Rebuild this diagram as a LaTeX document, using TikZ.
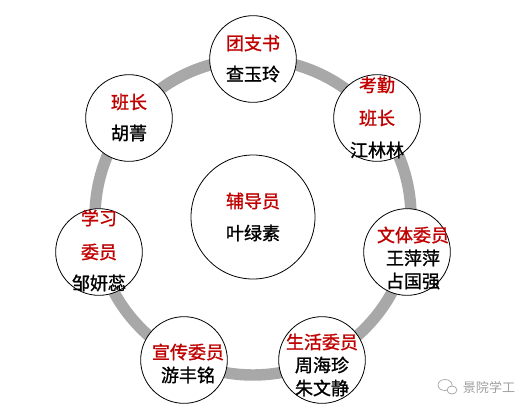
\documentclass[tikz,border=0pt]{standalone}
\usepackage{fontspec}
\setmainfont{Noto Sans CJK SC}[FakeBold=1.2]
\newfontfamily\markfont{Noto Sans CJK SC}
\definecolor{postred}{HTML}{C00000}
\definecolor{ringgray}{HTML}{A8A8A8}
\definecolor{markgray}{HTML}{A0A0A0}
\tikzset{
  post/.style={circle, draw=black, line width=0.6pt, fill=white, minimum size=65pt, inner sep=0pt},
  hub/.style={post, minimum size=93pt},
  title/.style={text=postred, inner sep=0pt, font=\fontsize{13.5}{16}\selectfont},
  who/.style={text=black, inner sep=0pt, font=\fontsize{13.5}{16}\selectfont},
  wmark/.style={text=markgray, inner sep=0pt, font=\markfont\fontsize{9.8}{12}\selectfont}
}
\begin{document}
\begin{tikzpicture}[x=0.75pt, y=-0.75pt]
\useasboundingbox (0,0) rectangle (520,419);
% ring
\draw[ringgray, line width=8.6pt] (253,217) circle (158);
% circles
\node[hub] (fdy) at (253,217) {};
\node[post] (tzs) at (253,59) {};
\node[post] (kqbz) at (377,118) {};
\node[post] (wtwy) at (407,252) {};
\node[post] (shwy) at (322,360) {};
\node[post] (xcwy) at (184,360) {};
\node[post] (xxwy) at (99,252) {};
\node[post] (bz) at (129,118) {};
% texts
\node[title] (fdy-t) at (253,201) {辅导员};
\node[who] (fdy-n) at (253,233) {叶绿素};
\node[title] (tzs-t) at (253,43) {团支书};
\node[who] (tzs-n) at (253,74) {查玉玲};
\node[title] (kqbz-t1) at (377,85) {考勤};
\node[title] (kqbz-t2) at (377,118) {班长};
\node[who] (kqbz-n) at (377,150) {江林林};
\node[title] (wtwy-t) at (413,235) {文体委员};
\node[who] (wtwy-n1) at (413,258) {王萍萍};
\node[who] (wtwy-n2) at (413,281) {占国强};
\node[title] (shwy-t) at (322,342) {生活委员};
\node[who] (shwy-n1) at (322,365) {周海珍};
\node[who] (shwy-n2) at (322,388) {朱文静};
\node[title] (xcwy-t) at (188,352) {宣传委员};
\node[who] (xcwy-n) at (188,375) {游丰铭};
\node[title] (xxwy-t1) at (99,218) {学习};
\node[title] (xxwy-t2) at (99,252) {委员};
\node[who] (xxwy-n) at (99,283) {邹妍蕊};
\node[title] (bz-t) at (129,102) {班长};
\node[who] (bz-n) at (129,133) {胡菁};
% watermark
\draw[markgray, line width=0.5pt] (445,385) ellipse (7 and 5.5);
\draw[markgray, line width=0.5pt, fill=white] (452,390) ellipse (5 and 4);
\node[wmark] (wmark-t) at (489,387) {景院学工};
\end{tikzpicture}
\end{document}
